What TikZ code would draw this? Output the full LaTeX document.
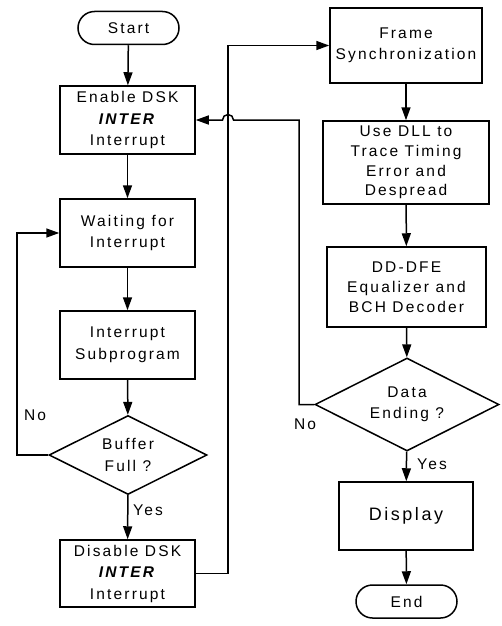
\documentclass[tikz,border=0pt]{standalone}
\usepackage{fontspec}
\setmainfont{Liberation Sans}[LetterSpace=14]
\usetikzlibrary{shapes.geometric,arrows.meta}

\tikzset{
  every path/.style={line width=1.5pt},
  flow/.style={-{Triangle[length=13pt,width=9pt]}},
  txt/.style={font=\fontsize{15.5}{21.5}\selectfont, align=center},
  procbox/.style={txt, draw, rectangle, inner sep=0pt},
  termbox/.style={txt, draw, rectangle, rounded corners=16.5pt, inner sep=0pt,
    minimum width=101pt, minimum height=33pt},
  decision/.style={txt, draw, diamond, aspect=2, inner sep=0pt},
  lbl/.style={font=\fontsize{15.5}{17}\selectfont},
}

\begin{document}
\begin{tikzpicture}[x=1pt,y=1pt]
\useasboundingbox (0,0) rectangle (502,-626);

% left column: interrupt handling
\node[termbox] (start) at (128.5,-28) {Start};
\node[procbox, minimum width=135pt, minimum height=68pt] (enable) at (127.5,-120)
  {Enable DSK\\\textbf{\textit{INTER}}\\Interrupt};
\node[procbox, minimum width=135pt, minimum height=68pt] (wait) at (127.5,-233)
  {Waiting for\\Interrupt};
\node[procbox, minimum width=135pt, minimum height=68pt] (sub) at (127.5,-345)
  {Interrupt\\Subprogram};
\node[decision, minimum width=158pt, minimum height=79pt] (buf) at (128,-455)
  {Buffer\\Full ?};
\node[procbox, minimum width=135pt, minimum height=67pt] (disable) at (127.5,-573.5)
  {Disable DSK\\\textbf{\textit{INTER}}\\Interrupt};

% right column: receiver processing
\node[procbox, minimum width=152pt, minimum height=75pt] (frame) at (406,-45.5)
  {Frame\\Synchronization};
\node[procbox, minimum width=166pt, minimum height=83pt, font=\fontsize{15.5}{19.7}\selectfont] (dll) at (406,-162.5)
  {Use DLL to\\Trace Timing\\Error and\\Despread};
\node[procbox, minimum width=159pt, minimum height=80pt, font=\fontsize{15.5}{20}\selectfont] (dfe) at (406.5,-287)
  {DD-DFE\\Equalizer and\\BCH Decoder};
\node[decision, minimum width=184pt, minimum height=93pt] (dend) at (407,-404.5)
  {Data\\Ending ?};
\node[procbox, minimum width=134pt, minimum height=68pt, font=\fontsize{18}{20}\selectfont] (display) at (406,-516)
  {Display};
\node[termbox] (end) at (406.5,-601.5) {End};

% main flow
\draw[flow] (start) -- (enable);
\draw[flow] (enable) -- (wait);
\draw[flow] (wait) -- (sub);
\draw[flow] (sub) -- (buf);
\draw[flow] (buf) -- (disable);
\draw[flow] (frame) -- (dll);
\draw[flow] (dll) -- (dfe);
\draw[flow] (dfe) -- (dend);
\draw[flow] (dend) -- (display);
\draw[flow] (display) -- (end);

% buffer not full: back to waiting
\coordinate (lb) at (17,-455);
\draw[flow] (buf.west) -- (lb) |- (wait.west);

% buffer full: on to frame synchronization
\coordinate (mid) at (228,-573.5);
\draw[flow] (disable.east) -- (mid) |- (frame.west);

% data not finished: back to enabling the interrupt, hopping the crossing line
\coordinate (rb) at (299,-404.5);
\coordinate (rt) at (299,-120);
\coordinate (hopr) at (233.5,-120);
\draw[flow] (dend.west) -- (rb) -- (rt) -- (hopr)
  arc[start angle=0, end angle=180, radius=5.5pt] -- (enable.east);

% branch labels
\node[lbl] (bno) at (35,-415) {No};
\node[lbl] (byes) at (148,-510) {Yes};
\node[lbl] (dno) at (305,-424) {No};
\node[lbl] (dyes) at (432,-464) {Yes};
\end{tikzpicture}
\end{document}
